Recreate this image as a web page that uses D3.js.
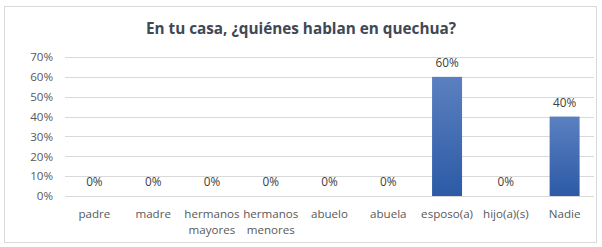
<!DOCTYPE html>
<html lang="es">
<head>
    <title>Quechua</title>
    <script src="https://d3js.org/d3.v7.min.js"></script>
    <style>
        body { margin: 0; background: #fff; }
        text { font-family: "Open Sans", sans-serif; }
        .axis text { fill: #595959; font-size: 11.6px; }
        .axis .domain { display: none; }
        .grid line { stroke: #d9d9d9; stroke-width: 1; }
    </style>
</head>
<body>
<script>
    const categories = ["padre", "madre", "hermanos mayores", "hermanos menores", "abuelo", "abuela", "esposo(a)", "hijo(a)(s)", "Nadie"];
    const values = [0, 0, 0, 0, 0, 0, 0.6, 0, 0.4];
    const yTicks = [0, 0.1, 0.2, 0.3, 0.4, 0.5, 0.6, 0.7];
    const title = "En tu casa, ¿quiénes hablan en quechua?";

    const svg = d3.select("body").append("svg").attr("width", 602).attr("height", 247);

    const defs = svg.append("defs");
    const grad = defs.append("linearGradient").attr("id", "barGrad")
        .attr("x1", 0).attr("y1", 0).attr("x2", 0).attr("y2", 1);
    grad.append("stop").attr("offset", "0%").attr("stop-color", "#5b80c0");
    grad.append("stop").attr("offset", "100%").attr("stop-color", "#2c5aa6");

    svg.append("rect")
        .attr("x", 4.5).attr("y", 6.5).attr("width", 592).attr("height", 236)
        .attr("fill", "#fff").attr("stroke", "#d9d9d9");

    svg.append("text")
        .attr("x", 301).attr("y", 34)
        .attr("text-anchor", "middle")
        .attr("font-size", 15.3).attr("font-weight", "bold")
        .attr("fill", "#404854")
        .text(title);

    const x = d3.scaleBand().domain(categories).range([65, 594]).paddingInner(0.49).paddingOuter(0.245);
    const y = d3.scaleLinear().domain([0, 0.7]).range([196, 57]);

    // gridlines
    svg.append("g").attr("class", "grid")
        .selectAll("line").data(yTicks).enter()
        .append("line")
        .attr("x1", 65).attr("x2", 594)
        .attr("y1", d => Math.round(y(d)) + 0.5).attr("y2", d => Math.round(y(d)) + 0.5);

    const yAxis = d3.axisLeft(y).tickValues(yTicks).tickFormat(d3.format(".0%")).tickSize(0).tickPadding(12);
    svg.append("g").attr("class", "axis")
        .attr("transform", "translate(65,0)")
        .call(yAxis);

    svg.append("g").selectAll("rect")
        .data(values).enter()
        .append("rect")
        .attr("x", (d, i) => x(categories[i]))
        .attr("width", x.bandwidth())
        .attr("y", d => y(d))
        .attr("height", d => y(0) - y(d))
        .attr("fill", "url(#barGrad)");

    svg.append("g").selectAll("text")
        .data(values).enter()
        .append("text")
        .attr("x", (d, i) => x(categories[i]) + x.bandwidth() / 2)
        .attr("y", d => y(d) - 10)
        .attr("text-anchor", "middle")
        .attr("font-size", 11.8)
        .attr("fill", "#404040")
        .text(d => d3.format(".0%")(d));

    // category labels, wrapped on spaces
    const xAxis = d3.axisBottom(x).tickSize(0).tickPadding(0).tickFormat("");
    const xg = svg.append("g").attr("class", "axis")
        .attr("transform", "translate(0,196)")
        .call(xAxis);
    xg.selectAll(".tick").append("text")
        .attr("text-anchor", "middle")
        .selectAll("tspan")
        .data(d => d.split(" "))
        .enter().append("tspan")
        .attr("x", 0)
        .attr("y", (d, i) => 22 + i * 16)
        .text(d => d);
</script>
</body>
</html>
